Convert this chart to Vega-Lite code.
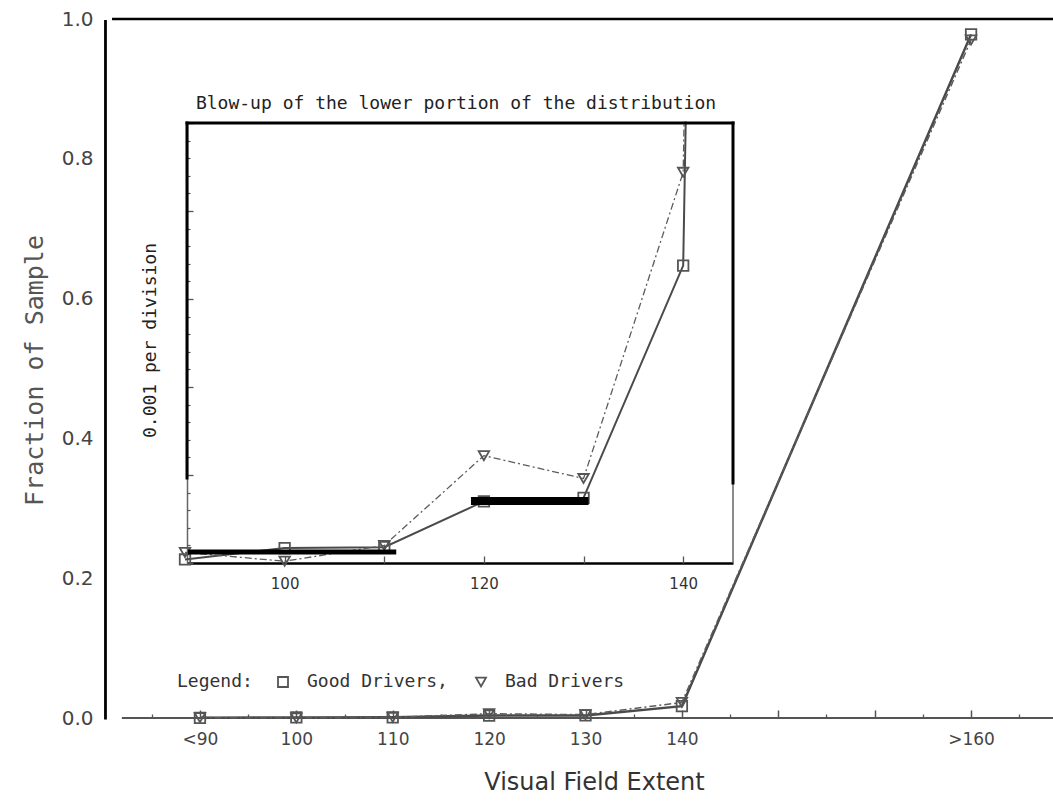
{
  "$schema": "https://vega.github.io/schema/vega-lite/v6.json",
  "width": 948,
  "height": 699,
  "autosize": {"type": "none"},
  "padding": {"left": 105, "top": 19, "right": 0, "bottom": 85},
  "background": "white",
  "config": {"view": {"stroke": null}, "axis": {"grid": false}},
  "datasets": {
    "fractions": [
      {"drivers": "Good Drivers", "extent": 90, "fraction": 0.0002},
      {"drivers": "Good Drivers", "extent": 100, "fraction": 0.00085},
      {"drivers": "Good Drivers", "extent": 110, "fraction": 0.0009},
      {"drivers": "Good Drivers", "extent": 120, "fraction": 0.0035},
      {"drivers": "Good Drivers", "extent": 130, "fraction": 0.0037},
      {"drivers": "Good Drivers", "extent": 140, "fraction": 0.0169},
      {"drivers": "Good Drivers", "extent": 170, "fraction": 0.978},
      {"drivers": "Bad Drivers", "extent": 90, "fraction": 0.0006},
      {"drivers": "Bad Drivers", "extent": 100, "fraction": 0.0001},
      {"drivers": "Bad Drivers", "extent": 110, "fraction": 0.001},
      {"drivers": "Bad Drivers", "extent": 120, "fraction": 0.0061},
      {"drivers": "Bad Drivers", "extent": 130, "fraction": 0.0048},
      {"drivers": "Bad Drivers", "extent": 140, "fraction": 0.0222},
      {"drivers": "Bad Drivers", "extent": 170, "fraction": 0.97}
    ]
  },
  "resolve": {"scale": {"x": "independent", "y": "independent"}},
  "layer": [
    {
      "data": {"name": "fractions"},
      "layer": [
        {
          "transform": [{"filter": {"field": "drivers", "equal": "Good Drivers"}}],
          "mark": {"type": "line", "clip": true, "color": "#4a4a4a", "strokeWidth": 2},
          "encoding": {
            "x": {"field": "extent", "type": "quantitative",
                  "scale": {"domain": [90.2, 145.0], "range": [82, 628], "nice": false, "zero": false},
                  "axis": {"orient": "bottom", "offset": -155, "values": [100, 120, 140], "ticks": false,
                           "domain": true, "domainColor": "black", "domainWidth": 2.5,
                           "labelFont": "DejaVu Sans", "labelFontSize": 15, "labelColor": "#333",
                           "labelPadding": 13, "labelFlush": false, "labelOverlap": false, "title": null, "grid": false}},
            "y": {"field": "fraction", "type": "quantitative",
                  "scale": {"domain": [0, 0.025], "range": [544, 104], "nice": false, "zero": false},
                  "axis": {"orient": "left", "offset": -82, "labels": false, "ticks": false,
                           "domain": true, "domainColor": "#666", "domainWidth": 1.5, "grid": false,
                           "title": "0.001 per division", "titleFont": "DejaVu Sans Mono", "titleFontSize": 18,
                           "titleFontWeight": "normal", "titleColor": "#222", "titleX": -37, "titleY": 321,
                           "titleAngle": -90, "titleAlign": "center", "titleBaseline": "middle"}}
          }
        },
        {
          "transform": [{"filter": {"field": "drivers", "equal": "Bad Drivers"}}],
          "mark": {"type": "line", "clip": true, "color": "#5c5c5c", "strokeWidth": 1.3, "strokeDash": [7, 3, 2, 3]},
          "encoding": {
            "x": {"field": "extent", "type": "quantitative"},
            "y": {"field": "fraction", "type": "quantitative"}
          }
        },
        {
          "mark": {"type": "point", "clip": true, "filled": false, "color": "#555", "strokeWidth": 1.8, "size": 110, "opacity": 1},
          "encoding": {
            "x": {"field": "extent", "type": "quantitative"},
            "y": {"field": "fraction", "type": "quantitative"},
            "shape": {"field": "drivers", "type": "nominal",
                      "scale": {"domain": ["Good Drivers", "Bad Drivers"], "range": ["square", "triangle-down"]},
                      "legend": {"title": "Legend:", "orient": "none", "legendX": 72, "legendY": 654,
                                 "direction": "horizontal", "titleOrient": "left",
                                 "titleFont": "DejaVu Sans Mono", "titleFontSize": 18, "titleFontWeight": "normal",
                                 "titleColor": "#333", "titlePadding": 21,
                                 "labelFont": "DejaVu Sans Mono", "labelFontSize": 18, "labelColor": "#333",
                                 "labelOffset": 15, "columnPadding": 24, "symbolSize": 100,
                                 "symbolStrokeColor": "#555", "symbolStrokeWidth": 1.8,
                                 "labelExpr": "datum.label == 'Good Drivers' ? 'Good Drivers,' : datum.label"}}
          }
        },
        {
          "data": {"values": [{}]},
          "mark": {"type": "rect", "fill": "white"},
          "encoding": {
            "x": {"datum": 136, "type": "quantitative"}, "x2": {"datum": 144.9},
            "y": {"datum": 0.02509, "type": "quantitative"}, "y2": {"datum": 0.0315}
          }
        },
        {
          "data": {"values": [{}]},
          "mark": {"type": "rule", "color": "#666", "strokeWidth": 1.5},
          "encoding": {
            "x": {"datum": 145.0, "type": "quantitative"},
            "y": {"datum": 0, "type": "quantitative"}, "y2": {"datum": 0.025}
          }
        },
        {
          "data": {"values": [{}]},
          "mark": {"type": "rule", "color": "black", "strokeWidth": 3, "strokeCap": "square"},
          "encoding": {
            "x": {"datum": 145.0, "type": "quantitative"},
            "y": {"datum": 0.00455, "type": "quantitative"}, "y2": {"datum": 0.025}
          }
        },
        {
          "data": {"values": [{}]},
          "mark": {"type": "rule", "color": "black", "strokeWidth": 3, "strokeCap": "square"},
          "encoding": {
            "x": {"datum": 90.2, "type": "quantitative"},
            "y": {"datum": 0.00483, "type": "quantitative"}, "y2": {"datum": 0.025}
          }
        },
        {
          "data": {"values": [{}]},
          "mark": {"type": "rule", "color": "black", "strokeWidth": 3, "strokeCap": "square"},
          "encoding": {
            "x": {"datum": 90.2, "type": "quantitative"}, "x2": {"datum": 145.0},
            "y": {"datum": 0.025, "type": "quantitative"}
          }
        },
        {
          "data": {"values": [{}]},
          "mark": {"type": "rule", "color": "black", "strokeWidth": 5},
          "encoding": {
            "x": {"datum": 90.3, "type": "quantitative"}, "x2": {"datum": 111.2},
            "y": {"datum": 0.000625, "type": "quantitative"}
          }
        },
        {
          "data": {"values": [{}]},
          "mark": {"type": "rule", "color": "black", "strokeWidth": 8},
          "encoding": {
            "x": {"datum": 118.7, "type": "quantitative"}, "x2": {"datum": 130.5},
            "y": {"datum": 0.00352, "type": "quantitative"}
          }
        },
        {
          "data": {"values": [{}]},
          "mark": {"type": "text", "text": "Blow-up of the lower portion of the distribution",
                   "font": "DejaVu Sans Mono", "fontSize": 18, "color": "#222",
                   "align": "center", "baseline": "alphabetic"},
          "encoding": {
            "x": {"datum": 117.2, "type": "quantitative"},
            "y": {"datum": 0.02577, "type": "quantitative"}
          }
        }
      ]
    },
    {
      "data": {"values": [{}]},
      "mark": {"type": "rule", "opacity": 0},
      "encoding": {
        "x": {"datum": 100, "type": "quantitative",
              "scale": {"domain": [90.2, 145.0], "range": [82, 628], "nice": false, "zero": false},
              "axis": {"orient": "bottom", "offset": -155, "values": [100, 110, 120, 130, 140],
                       "labels": false, "domain": false, "ticks": true, "tickSize": -7,
                       "tickColor": "#555", "tickWidth": 1.3, "title": null, "grid": false}}
      }
    },
    {
      "data": {"values": [{}]},
      "mark": {"type": "rule", "opacity": 0},
      "encoding": {
        "y": {"datum": 0.01, "type": "quantitative",
              "scale": {"domain": [0, 0.025], "range": [544, 104], "nice": false, "zero": false},
              "axis": {"orient": "left", "offset": -82, "values": [0, 0.005, 0.01, 0.015, 0.02, 0.025],
                       "labels": false, "domain": false, "ticks": true, "tickSize": -6,
                       "tickColor": "#555", "tickWidth": 1.3, "title": null, "grid": false}}
      }
    },
    {
      "data": {"values": [{}]},
      "mark": {"type": "rule", "opacity": 0},
      "encoding": {
        "y": {"datum": 0.01, "type": "quantitative",
              "scale": {"domain": [0, 0.025], "range": [544, 104], "nice": false, "zero": false},
              "axis": {"orient": "left", "offset": -82,
                       "values": [0.001, 0.002, 0.003, 0.004, 0.006, 0.007, 0.008, 0.009, 0.011, 0.012, 0.013, 0.014, 0.016, 0.017, 0.018, 0.019, 0.021, 0.022, 0.023, 0.024],
                       "labels": false, "domain": false, "ticks": true, "tickSize": -3,
                       "tickColor": "#555", "tickWidth": 1.2, "title": null, "grid": false}}
      }
    },
    {
      "data": {"name": "fractions"},
      "layer": [
        {
          "data": {"values": [{}]},
          "mark": {"type": "rule", "color": "#555", "strokeWidth": 2},
          "encoding": {
            "x": {"datum": 81.9, "type": "quantitative",
                  "scale": {"domain": [80.15, 178.5], "nice": false, "zero": false},
                  "axis": {"orient": "bottom", "values": [90, 100, 110, 120, 130, 140, 170],
                           "labelExpr": "datum.value == 90 ? '<90' : datum.value == 170 ? '>160' : datum.label",
                           "ticks": false, "domain": false, "grid": false,
                           "labelFont": "DejaVu Sans", "labelFontSize": 17, "labelColor": "#444",
                           "labelPadding": 13, "labelFlush": false, "labelOverlap": false,
                           "title": "Visual Field Extent", "titleFont": "DejaVu Sans", "titleFontSize": 24,
                           "titleFontWeight": "normal", "titleColor": "#333", "titleX": 489, "titleY": 71,
                           "titleAlign": "center", "titleBaseline": "alphabetic"}},
            "x2": {"datum": 178.5},
            "y": {"datum": 0, "type": "quantitative",
                  "scale": {"domain": [0, 1], "nice": false, "zero": false},
                  "axis": {"orient": "left", "values": [0, 0.2, 0.4, 0.6, 0.8, 1.0], "format": ".1f",
                           "ticks": false, "domain": false, "grid": false,
                           "labelFont": "DejaVu Sans", "labelFontSize": 20, "labelColor": "#444",
                           "labelPadding": 12, "labelFlush": false, "labelOverlap": false,
                           "title": "Fraction of Sample", "titleFont": "DejaVu Sans Mono", "titleFontSize": 25,
                           "titleFontWeight": "normal", "titleColor": "#555", "titleX": -63, "titleY": 351,
                           "titleAngle": -90, "titleAlign": "center", "titleBaseline": "alphabetic"}}
          }
        },
        {
          "transform": [{"filter": {"field": "drivers", "equal": "Good Drivers"}}],
          "mark": {"type": "line", "color": "#4a4a4a", "strokeWidth": 2.5},
          "encoding": {
            "x": {"field": "extent", "type": "quantitative"},
            "y": {"field": "fraction", "type": "quantitative"}
          }
        },
        {
          "transform": [{"filter": {"field": "drivers", "equal": "Bad Drivers"}}],
          "mark": {"type": "line", "color": "#5c5c5c", "strokeWidth": 1.5, "strokeDash": [7, 3, 2, 3]},
          "encoding": {
            "x": {"field": "extent", "type": "quantitative"},
            "y": {"field": "fraction", "type": "quantitative"}
          }
        },
        {
          "mark": {"type": "point", "filled": false, "color": "#555", "strokeWidth": 1.8, "size": 110, "opacity": 1},
          "encoding": {
            "x": {"field": "extent", "type": "quantitative"},
            "y": {"field": "fraction", "type": "quantitative"},
            "shape": {"field": "drivers", "type": "nominal",
                      "scale": {"domain": ["Good Drivers", "Bad Drivers"], "range": ["square", "triangle-down"]},
                      "legend": {"title": "Legend:", "orient": "none", "legendX": 72, "legendY": 654,
                                 "direction": "horizontal", "titleOrient": "left",
                                 "titleFont": "DejaVu Sans Mono", "titleFontSize": 18, "titleFontWeight": "normal",
                                 "titleColor": "#333", "titlePadding": 21,
                                 "labelFont": "DejaVu Sans Mono", "labelFontSize": 18, "labelColor": "#333",
                                 "labelOffset": 15, "columnPadding": 24, "symbolSize": 100,
                                 "symbolStrokeColor": "#555", "symbolStrokeWidth": 1.8,
                                 "labelExpr": "datum.label == 'Good Drivers' ? 'Good Drivers,' : datum.label"}}
          }
        },
        {
          "data": {"values": [{}]},
          "mark": {"type": "rule", "color": "black", "strokeWidth": 2.8},
          "encoding": {
            "x": {"datum": 80.2, "type": "quantitative"},
            "y": {"datum": -0.002, "type": "quantitative"}, "y2": {"datum": 0.9986}
          }
        },
        {
          "data": {"values": [{}]},
          "mark": {"type": "rule", "color": "black", "strokeWidth": 2.5},
          "encoding": {
            "x": {"datum": 80.88, "type": "quantitative"}, "x2": {"datum": 178.5},
            "y": {"datum": 1.0, "type": "quantitative"}
          }
        }
      ]
    },
    {
      "data": {"values": [{}]},
      "mark": {"type": "rule", "opacity": 0},
      "encoding": {
        "x": {"datum": 100, "type": "quantitative",
              "scale": {"domain": [80.15, 178.5], "nice": false, "zero": false},
              "axis": {"orient": "bottom", "values": [90, 100, 110, 120, 130, 140, 150, 160, 170],
                       "labels": false, "domain": false, "ticks": true, "tickSize": -8,
                       "tickColor": "#555", "tickWidth": 1.5, "title": null, "grid": false}}
      }
    },
    {
      "data": {"values": [{}]},
      "mark": {"type": "rule", "opacity": 0},
      "encoding": {
        "x": {"datum": 100, "type": "quantitative",
              "scale": {"domain": [80.15, 178.5], "nice": false, "zero": false},
              "axis": {"orient": "bottom", "values": [85, 95, 105, 115, 125, 135, 145, 155, 165, 175],
                       "labels": false, "domain": false, "ticks": true, "tickSize": -4,
                       "tickColor": "#555", "tickWidth": 1.3, "title": null, "grid": false}}
      }
    }
  ]
}
